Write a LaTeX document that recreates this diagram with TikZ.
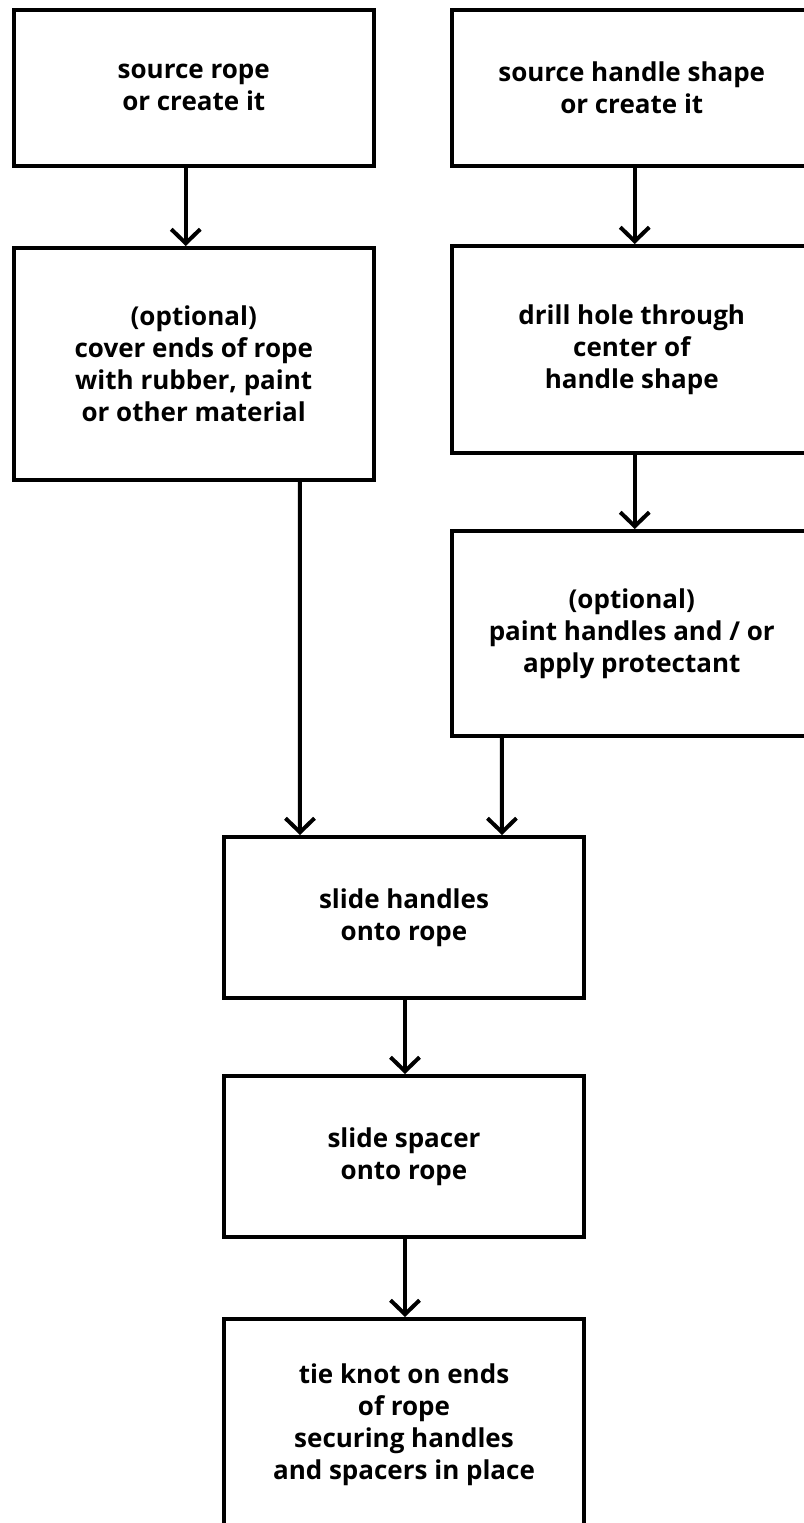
\documentclass[tikz,border=0pt]{standalone}
\usepackage{fontspec}
\setmainfont{Open Sans}
\usetikzlibrary{arrows.meta}
\tikzset{
    block/.style={draw, line width=2pt, inner sep=0pt, minimum width=180pt, align=center,
        font=\bfseries\fontsize{13}{16}\selectfont},
    flow/.style={line width=2pt, -{Straight Barb[length=7pt,width=14.5pt]}}
}
\begin{document}
\begin{tikzpicture}[x=0.5pt,y=-0.5pt]
    \useasboundingbox (0,0) rectangle (804,1523);
    \clip (0,0) rectangle (804,1523);
    %Rope
    \node[block, minimum height=78pt] (rope) at (193.75,87.75) {source rope\\or create it};
    \node[block, minimum height=116pt] (cover) at (193.75,364) {(optional)\\cover ends of rope\\with rubber, paint\\or other material};
    %Handle
    \node[block, minimum height=78pt] (handle) at (631.75,87.75) {source handle shape\\or create it};
    \node[block, minimum height=103.5pt] (drill) at (631.75,349.5) {drill hole through\\center of\\handle shape};
    \node[block, minimum height=102.5pt] (paint) at (631.75,633.5) {(optional)\\paint handles and / or\\apply protectant};
    %Assembly
    \node[block, minimum height=80.5pt] (slide) at (404,917.5) {slide handles\\onto rope};
    \node[block, minimum height=80.5pt] (spacer) at (404,1156.5) {slide spacer\\onto rope};
    \node[block, minimum height=105.5pt] (knot) at (404,1424.5) {tie knot on ends\\of rope\\securing handles\\and spacers in place};
    %Arrows
    \draw[flow] ([xshift=-4pt]rope.south) -- ([xshift=-4pt]cover.north);
    \draw[flow] ([xshift=1.5pt]handle.south) -- ([xshift=1.5pt]drill.north);
    \draw[flow] ([xshift=1.5pt]drill.south) -- ([xshift=1.5pt]paint.north);
    \draw[flow] ([xshift=53pt]cover.south) -- ([xshift=-52pt]slide.north);
    \draw[flow] ([xshift=-65pt]paint.south) -- ([xshift=49pt]slide.north);
    \draw[flow] ([xshift=0.5pt]slide.south) -- ([xshift=0.5pt]spacer.north);
    \draw[flow] ([xshift=0.5pt]spacer.south) -- ([xshift=0.5pt]knot.north);
\end{tikzpicture}
\end{document}
